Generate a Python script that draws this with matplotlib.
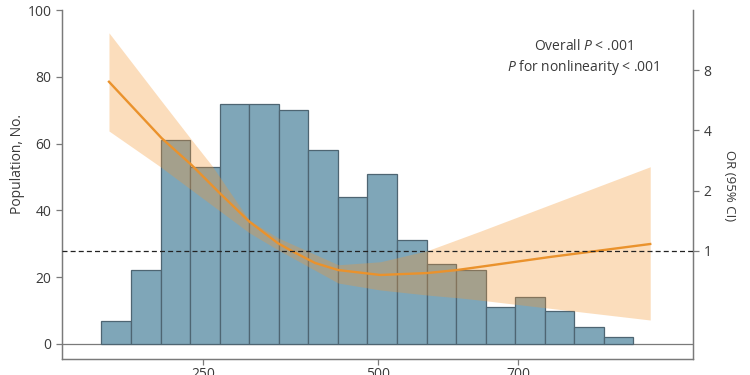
import matplotlib
matplotlib.use("Agg")
import matplotlib.pyplot as plt
import numpy as np

plt.rcParams['font.family'] = ['Open Sans', 'DejaVu Sans']
plt.rcParams['mathtext.fontset'] = 'custom'
plt.rcParams['mathtext.it'] = 'Open Sans:italic'
plt.rcParams['mathtext.rm'] = 'Open Sans'

# Histogram data
bin_start = 105.3
bin_width = 42.15
counts = [7, 22, 61, 53, 72, 72, 70, 58, 44, 51, 31, 24, 22, 11, 14, 10, 5, 2]

# Spline curve (OR)
curve_x = [116, 191, 234, 274, 316, 357, 376, 410, 443, 503, 570, 612, 645, 745, 888]
curve_or = [7.0, 3.66, 2.68, 1.94, 1.40, 1.09, 1.0, 0.868, 0.80, 0.756, 0.773, 0.80, 0.83, 0.93, 1.08]

# 95% CI band
band_x = [116, 190, 234, 263, 316, 357, 443, 503, 570, 617, 645, 888]
band_upper = [12.3, 5.66, 3.58, 2.66, 1.42, 1.16, 0.85, 0.88, 1.0, 1.15, 1.25, 2.63]
band_lower = [3.97, 2.62, 2.01, 1.69, 1.23, 1.01, 0.689, 0.636, 0.60, 0.58, 0.566, 0.45]

x_ticks = [250, 500, 700]
left_ticks = [0, 20, 40, 60, 80, 100]
right_ticks = [1, 2, 4, 8]

bar_color = '#7FA6B8'
bar_edge = '#4E6572'
line_color = '#EA922C'
band_color = '#F5962F'
spine_color = '#7A7A7A'
text_color = '#3A3A3A'

fig = plt.figure(figsize=(7.5, 3.75), dpi=100)
ax = fig.add_axes([62/750, 1-359/375, (693-62)/750, (359-10)/375])

edges = [bin_start + i*bin_width for i in range(len(counts))]
ax.bar(edges, counts, width=bin_width, align='edge', color=bar_color,
       edgecolor=bar_edge, linewidth=0.9, zorder=2)
ax.axhline(0, color=spine_color, linewidth=0.9, zorder=1)

ax.set_xlim(49, 949)
ax.set_ylim(-4.5, 100)
ax.set_xticks(x_ticks)
ax.set_xticklabels([str(t) for t in x_ticks])
ax.set_yticks(left_ticks)
ax.set_ylabel('Population, No.', fontsize=10, color=text_color)
ax.yaxis.set_label_coords(-0.059, 0.559)
ax.spines['top'].set_visible(False)
for s in ['left', 'bottom', 'right']:
    ax.spines[s].set_color(spine_color)
    ax.spines[s].set_linewidth(0.9)
ax.tick_params(axis='both', colors=spine_color, labelcolor=text_color,
               labelsize=10, length=4, width=0.9)
ax.tick_params(axis='x', pad=2)

ax2 = ax.twinx()
ax2.set_yscale('log', base=2)
ax2.set_ylim(2**-1.8, 16)
ax2.fill_between(band_x, band_lower, band_upper, color=band_color, alpha=0.32,
                 linewidth=0, zorder=2)
ax2.plot(curve_x, curve_or, color=line_color, linewidth=1.7, zorder=3)
ax2.axhline(1, color='#222222', linestyle=(0, (4, 2.5)), linewidth=0.9, zorder=4)
ax2.set_yticks(right_ticks)
ax2.set_yticklabels([str(t) for t in right_ticks])
ax2.yaxis.set_minor_locator(matplotlib.ticker.NullLocator())
ax2.spines['top'].set_visible(False)
for s in ['left', 'bottom', 'right']:
    ax2.spines[s].set_color(spine_color)
    ax2.spines[s].set_linewidth(0.9)
ax2.tick_params(axis='y', colors=spine_color, labelcolor=text_color,
                labelsize=10, length=4, width=0.9)
ax2.set_ylabel('OR (95% CI)', fontsize=9.5, color=text_color, rotation=270)
ax2.yaxis.set_label_coords(1.068, 0.497)

ax2.text(0.826, 0.894, r'Overall $\it{P}$ < .001', transform=ax.transAxes,
         ha='center', va='center', fontsize=10, color=text_color)
ax2.text(0.826, 0.834, r'$\it{P}$ for nonlinearity < .001', transform=ax.transAxes,
         ha='center', va='center', fontsize=10, color=text_color)

fig.savefig('out.png', dpi=100)
